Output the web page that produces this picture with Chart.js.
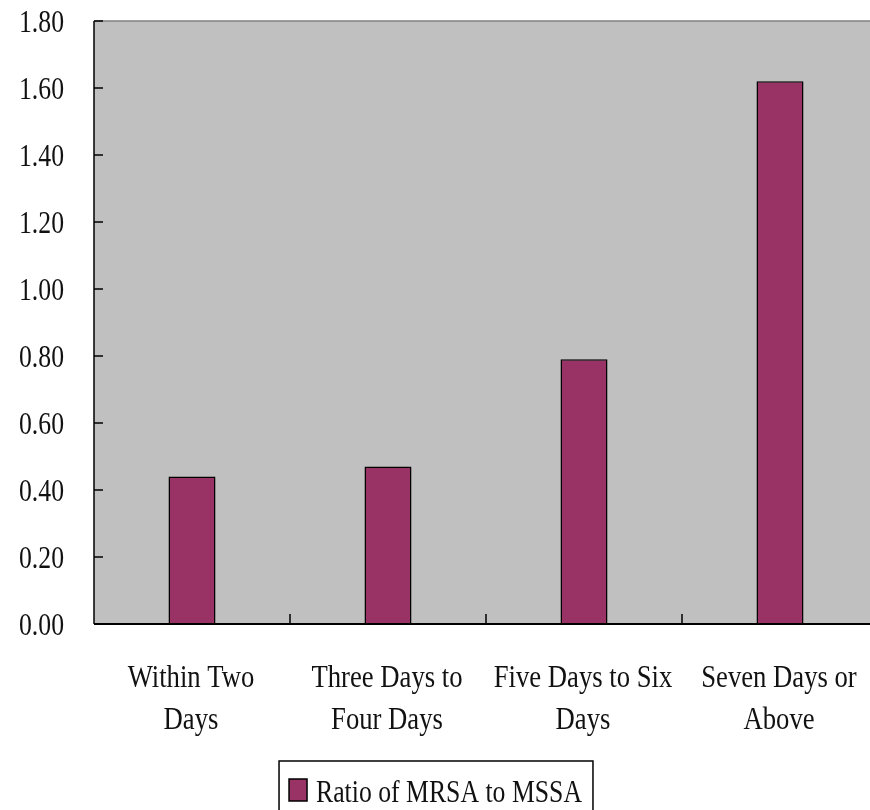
<!DOCTYPE html>
<html>
<head>
<meta charset="utf-8">
<title>Ratio of MRSA to MSSA</title>
<script src="https://cdn.jsdelivr.net/npm/chart.js@4.4.1/dist/chart.umd.min.js"></script>
<style>
  html, body { margin: 0; padding: 0; background: #fff; overflow: hidden; }
  #wrap { width: 878px; height: 810px; }
</style>
</head>
<body>
<div id="wrap"><canvas id="chart" width="878" height="810"></canvas></div>
<script>
// Length of stay groups, each label split into its two display lines
const categories = [
  ['Within Two', 'Days'],
  ['Three Days to', 'Four Days'],
  ['Five Days to Six', 'Days'],
  ['Seven Days or', 'Above']
];
const seriesLabel = 'Ratio of MRSA to MSSA';
const ratioValues = [0.44, 0.47, 0.79, 1.62];
const yTickLabels = ['0.00', '0.20', '0.40', '0.60', '0.80', '1.00', '1.20', '1.40', '1.60', '1.80'];

const FONT = '31px "Liberation Serif", "Times New Roman", serif';
const SQUEEZE = 0.83;
const TEXT_COLOR = '#111';
const BAR_COLOR = '#993366';

function squeezedText(ctx, text, x, y, align, squeeze = SQUEEZE) {
  ctx.save();
  ctx.translate(x, y);
  ctx.scale(squeeze, 1);
  ctx.font = FONT;
  ctx.fillStyle = TEXT_COLOR;
  ctx.textAlign = align;
  ctx.textBaseline = 'alphabetic';
  ctx.fillText(text, 0, 0);
  ctx.restore();
}

// Grey plotting panel behind the bars
const panel = {
  id: 'panel',
  beforeDatasetsDraw(chart) {
    const { ctx, chartArea: a } = chart;
    ctx.save();
    ctx.fillStyle = '#C0C0C0';
    ctx.fillRect(a.left, a.top, a.right - a.left, a.bottom - a.top);
    ctx.strokeStyle = '#808080';
    ctx.lineWidth = 1.5;
    ctx.beginPath();
    ctx.moveTo(a.left, a.top);
    ctx.lineTo(a.right, a.top);
    ctx.lineTo(a.right, a.bottom);
    ctx.stroke();
    ctx.restore();
  }
};

// Inward tick marks, tick labels and the boxed legend
const decorations = {
  id: 'decorations',
  afterDraw(chart) {
    const { ctx, chartArea: a, scales } = chart;
    const y = scales.y, x = scales.x;
    ctx.save();
    ctx.strokeStyle = '#000';
    ctx.lineWidth = 1.5;
    // axis lines
    ctx.beginPath();
    ctx.moveTo(a.left, a.top);
    ctx.lineTo(a.left, a.bottom);
    ctx.stroke();
    ctx.lineWidth = 2;
    ctx.beginPath();
    ctx.moveTo(a.left, a.bottom);
    ctx.lineTo(a.right, a.bottom);
    ctx.stroke();
    ctx.lineWidth = 1.5;
    // value ticks + labels
    y.ticks.forEach((t, i) => {
      const py = y.getPixelForValue(t.value);
      ctx.beginPath();
      ctx.moveTo(a.left, py);
      ctx.lineTo(a.left + 9, py);
      ctx.stroke();
      squeezedText(ctx, yTickLabels[i] ?? t.value.toFixed(2), 64, py + 11, 'right');
    });
    // category boundary ticks
    for (let i = 0; i < categories.length; i++) {
      const bx = (x.getPixelForValue(i) + x.getPixelForValue(i + 1)) / 2;
      ctx.beginPath();
      ctx.moveTo(bx, a.bottom);
      ctx.lineTo(bx, a.bottom - 10);
      ctx.stroke();
    }
    // category labels
    categories.forEach((lines, i) => {
      const cx = x.getPixelForValue(i) - 1;
      lines.forEach((line, j) => {
        squeezedText(ctx, line, cx, a.bottom + 63 + j * 42, 'center', 0.86);
      });
    });
    // legend
    ctx.font = FONT;
    const tw = ctx.measureText(seriesLabel).width * SQUEEZE;
    const boxW = 10 + 18 + 9 + tw + 11;
    const boxX = 436 - boxW / 2;
    const boxY = 761;
    ctx.lineWidth = 1.5;
    ctx.strokeStyle = '#000';
    ctx.strokeRect(boxX, boxY, boxW, 60);
    const ds = chart.data.datasets[0];
    ctx.fillStyle = ds.backgroundColor;
    ctx.fillRect(boxX + 10, 779, 18, 22);
    ctx.strokeRect(boxX + 10, 779, 18, 22);
    squeezedText(ctx, ds.label, boxX + 37, 802, 'left');
    ctx.restore();
  }
};

new Chart(document.getElementById('chart'), {
  type: 'bar',
  data: {
    labels: categories,
    datasets: [{
      label: seriesLabel,
      data: ratioValues,
      backgroundColor: BAR_COLOR,
      borderColor: '#000',
      borderWidth: 1.5,
      borderSkipped: 'bottom',
      categoryPercentage: 1,
      barPercentage: 0.24
    }]
  },
  options: {
    responsive: false,
    animation: false,
    layout: { padding: { top: 21, left: 0, right: 0, bottom: 0 } },
    plugins: { legend: { display: false }, tooltip: { enabled: false } },
    scales: {
      x: {
        grid: { display: false },
        border: { display: false },
        ticks: { display: false },
        afterFit(s) { s.height = 186; }
      },
      y: {
        min: 0,
        max: 1.8,
        ticks: { display: false, stepSize: 0.2 },
        grid: { display: false },
        border: { display: false },
        afterFit(s) { s.width = 94; }
      }
    }
  },
  plugins: [panel, decorations]
});
</script>
</body>
</html>
